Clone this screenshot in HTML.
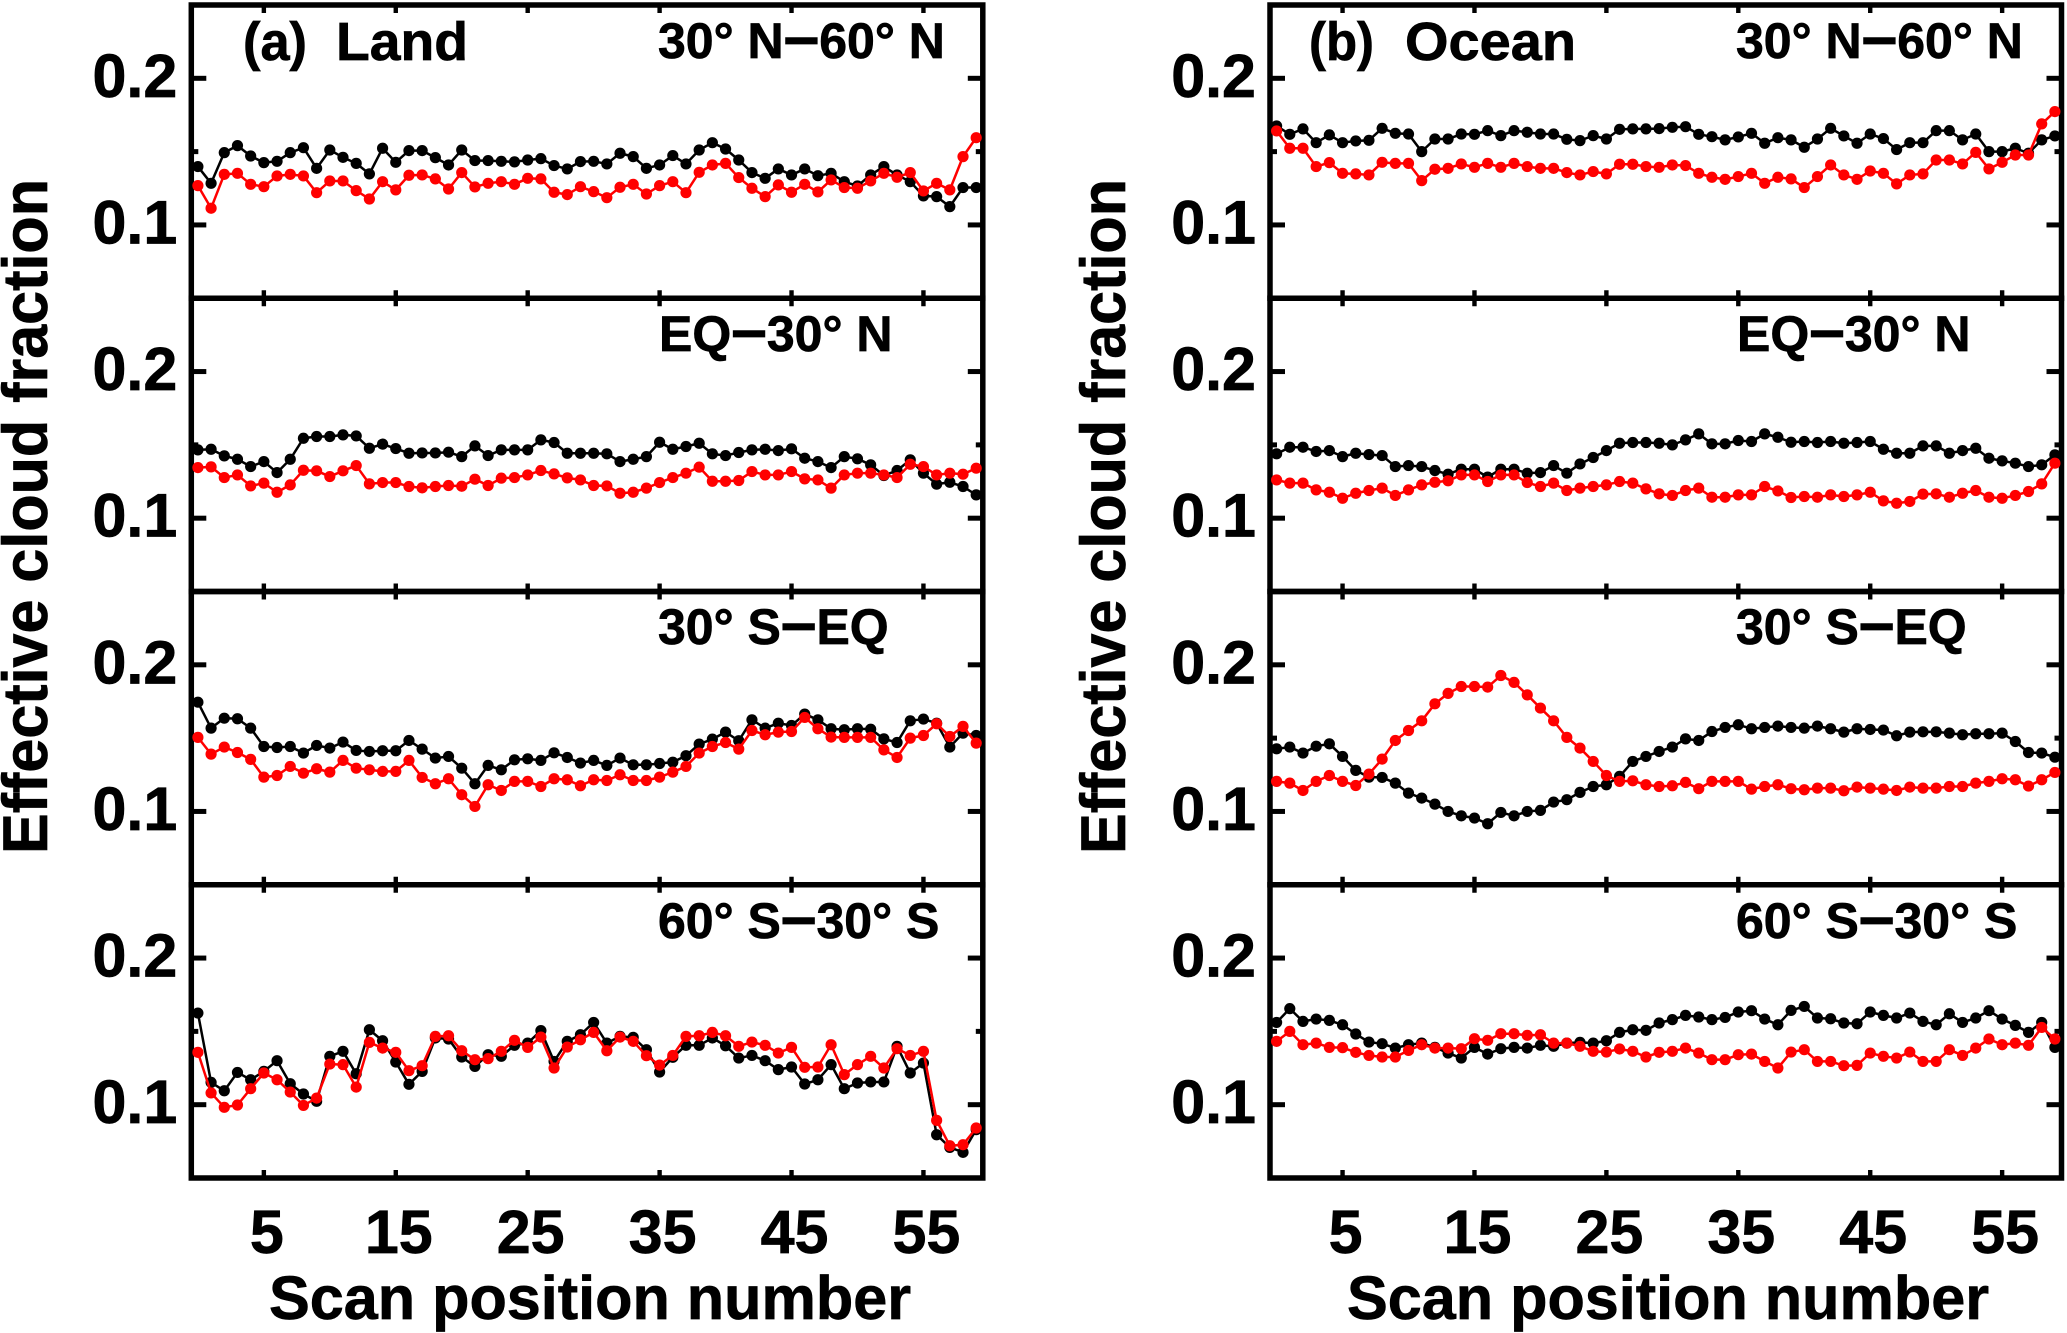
<!DOCTYPE html>
<html lang="en">
<head>
<meta charset="utf-8">
<title>Effective cloud fraction by scan position</title>
<style>
html,body{margin:0;padding:0;background:#fff;}
body{width:2067px;height:1333px;overflow:hidden;}
svg{display:block;}
text{font-family:"Liberation Sans",Arial,sans-serif;font-weight:bold;fill:#000;stroke:#000;stroke-width:0.7px;}
tspan.dash{font-size:64px;}
</style>
</head>
<body>
<svg id="chart" xmlns="http://www.w3.org/2000/svg" width="2067" height="1333" viewBox="0 0 2067 1333">
  <rect x="0" y="0" width="2067" height="1333" fill="#fff"/>
  <g id="panels"></g>
  <text transform="translate(47,854) rotate(-90)" font-size="63" textLength="675" lengthAdjust="spacingAndGlyphs">Effective cloud fraction</text>
  <text transform="translate(1125,854) rotate(-90)" font-size="63" textLength="675" lengthAdjust="spacingAndGlyphs">Effective cloud fraction</text>
  <text x="269" y="1319" font-size="61" textLength="642" lengthAdjust="spacingAndGlyphs">Scan position number</text>
  <text x="1347" y="1319" font-size="61" textLength="642" lengthAdjust="spacingAndGlyphs">Scan position number</text>
  <text x="243" y="60" font-size="54" textLength="64" lengthAdjust="spacingAndGlyphs">(a)</text>
  <text x="336" y="60" font-size="54" textLength="132" lengthAdjust="spacingAndGlyphs">Land</text>
  <text x="1309" y="60" font-size="54" textLength="65" lengthAdjust="spacingAndGlyphs">(b)</text>
  <text x="1405" y="60" font-size="54" textLength="171" lengthAdjust="spacingAndGlyphs">Ocean</text>
  <text x="658" y="58" font-size="50">30° N<tspan class="dash">–</tspan>60° N</text>
  <text x="659" y="351" font-size="50">EQ<tspan class="dash">–</tspan>30° N</text>
  <text x="658" y="644" font-size="50">30° S<tspan class="dash">–</tspan>EQ</text>
  <text x="658" y="938" font-size="50">60° S<tspan class="dash">–</tspan>30° S</text>
  <text x="1736" y="58" font-size="50">30° N<tspan class="dash">–</tspan>60° N</text>
  <text x="1737" y="351" font-size="50">EQ<tspan class="dash">–</tspan>30° N</text>
  <text x="1736" y="644" font-size="50">30° S<tspan class="dash">–</tspan>EQ</text>
  <text x="1736" y="938" font-size="50">60° S<tspan class="dash">–</tspan>30° S</text>
</svg>
<script>
const xTickValues = [5, 15, 25, 35, 45, 55];
const yTickValues = [0.1, 0.2];
const yMinorTickValues = [0.15];
const yTickLabels = ['0.1', '0.2'];

const land3060Black = [0.1398,0.1284,0.1493,0.1541,0.1470,0.1425,0.1434,0.1493,0.1527,0.1386,0.1511,0.1461,0.1420,0.1348,0.1523,0.1427,0.1507,0.1507,0.1459,0.1409,0.1511,0.1439,0.1439,0.1434,0.1430,0.1443,0.1452,0.1405,0.1382,0.1432,0.1434,0.1416,0.1489,0.1466,0.1386,0.1409,0.1473,0.1416,0.1511,0.1561,0.1518,0.1443,0.1357,0.1318,0.1382,0.1341,0.1382,0.1336,0.1352,0.1295,0.1266,0.1341,0.1398,0.1341,0.1295,0.1198,0.1193,0.1125,0.1255,0.1255];
const land3060Red = [0.1268,0.1114,0.1345,0.1352,0.1277,0.1261,0.1334,0.1345,0.1334,0.1220,0.1300,0.1300,0.1234,0.1177,0.1295,0.1239,0.1339,0.1341,0.1314,0.1245,0.1357,0.1259,0.1284,0.1295,0.1277,0.1318,0.1314,0.1223,0.1207,0.1261,0.1227,0.1186,0.1257,0.1277,0.1211,0.1268,0.1295,0.1220,0.1359,0.1409,0.1420,0.1323,0.1250,0.1193,0.1273,0.1223,0.1277,0.1225,0.1307,0.1255,0.1250,0.1300,0.1352,0.1325,0.1357,0.1232,0.1284,0.1239,0.1466,0.1595];

const landEq30Black = [0.1466,0.1470,0.1425,0.1402,0.1352,0.1386,0.1311,0.1402,0.1545,0.1557,0.1557,0.1568,0.1561,0.1477,0.1505,0.1475,0.1443,0.1445,0.1445,0.1450,0.1420,0.1493,0.1427,0.1466,0.1466,0.1466,0.1534,0.1516,0.1443,0.1443,0.1443,0.1439,0.1386,0.1402,0.1420,0.1518,0.1470,0.1489,0.1511,0.1439,0.1427,0.1448,0.1466,0.1470,0.1461,0.1473,0.1409,0.1386,0.1345,0.1420,0.1405,0.1364,0.1291,0.1325,0.1398,0.1307,0.1232,0.1245,0.1216,0.1159];
const landEq30Red = [0.1345,0.1350,0.1277,0.1295,0.1220,0.1239,0.1177,0.1227,0.1327,0.1323,0.1284,0.1323,0.1359,0.1234,0.1243,0.1243,0.1216,0.1207,0.1216,0.1223,0.1218,0.1266,0.1223,0.1273,0.1277,0.1295,0.1325,0.1302,0.1275,0.1261,0.1223,0.1220,0.1170,0.1177,0.1205,0.1243,0.1277,0.1307,0.1348,0.1252,0.1252,0.1257,0.1318,0.1295,0.1295,0.1318,0.1268,0.1261,0.1205,0.1295,0.1307,0.1307,0.1295,0.1277,0.1368,0.1352,0.1295,0.1307,0.1300,0.1341];

const landS30EqBlack = [0.1745,0.1568,0.1636,0.1632,0.1568,0.1443,0.1436,0.1443,0.1398,0.1450,0.1432,0.1473,0.1416,0.1409,0.1414,0.1414,0.1484,0.1425,0.1364,0.1375,0.1295,0.1189,0.1314,0.1284,0.1352,0.1359,0.1348,0.1400,0.1368,0.1330,0.1348,0.1314,0.1364,0.1318,0.1318,0.1327,0.1336,0.1380,0.1459,0.1493,0.1541,0.1482,0.1625,0.1568,0.1602,0.1586,0.1664,0.1625,0.1564,0.1557,0.1564,0.1561,0.1495,0.1470,0.1618,0.1630,0.1602,0.1439,0.1534,0.1518];
const landS30EqRed = [0.1505,0.1391,0.1439,0.1402,0.1355,0.1234,0.1245,0.1307,0.1261,0.1291,0.1268,0.1348,0.1295,0.1284,0.1273,0.1273,0.1348,0.1232,0.1189,0.1223,0.1114,0.1034,0.1182,0.1143,0.1205,0.1205,0.1170,0.1223,0.1216,0.1175,0.1216,0.1211,0.1250,0.1211,0.1211,0.1234,0.1268,0.1307,0.1398,0.1443,0.1470,0.1425,0.1552,0.1523,0.1541,0.1545,0.1641,0.1564,0.1507,0.1505,0.1505,0.1505,0.1420,0.1368,0.1500,0.1518,0.1598,0.1511,0.1580,0.1466];

const landS60S30Black = [0.1625,0.1152,0.1095,0.1220,0.1170,0.1227,0.1300,0.1143,0.1073,0.1023,0.1330,0.1364,0.1211,0.1511,0.1436,0.1291,0.1139,0.1227,0.1455,0.1448,0.1325,0.1261,0.1341,0.1330,0.1405,0.1420,0.1505,0.1295,0.1432,0.1477,0.1561,0.1420,0.1466,0.1459,0.1375,0.1223,0.1323,0.1405,0.1405,0.1455,0.1402,0.1318,0.1336,0.1300,0.1239,0.1257,0.1141,0.1170,0.1273,0.1109,0.1148,0.1155,0.1155,0.1398,0.1216,0.1284,0.0795,0.0709,0.0675,0.0830];
const landS60S30Red = [0.1357,0.1080,0.0982,0.0998,0.1109,0.1216,0.1170,0.1086,0.0995,0.1045,0.1277,0.1273,0.1120,0.1425,0.1386,0.1357,0.1232,0.1266,0.1466,0.1470,0.1368,0.1307,0.1314,0.1364,0.1439,0.1391,0.1461,0.1250,0.1393,0.1443,0.1493,0.1368,0.1461,0.1432,0.1334,0.1270,0.1336,0.1466,0.1470,0.1493,0.1470,0.1398,0.1427,0.1405,0.1352,0.1391,0.1255,0.1257,0.1409,0.1205,0.1273,0.1330,0.1250,0.1382,0.1336,0.1364,0.0893,0.0720,0.0727,0.0841];

const ocean3060Black = [0.1675,0.1618,0.1655,0.1561,0.1614,0.1561,0.1573,0.1577,0.1659,0.1625,0.1620,0.1500,0.1586,0.1586,0.1620,0.1618,0.1643,0.1609,0.1643,0.1632,0.1620,0.1620,0.1584,0.1575,0.1609,0.1586,0.1652,0.1655,0.1655,0.1657,0.1666,0.1670,0.1618,0.1602,0.1580,0.1600,0.1625,0.1557,0.1595,0.1580,0.1530,0.1586,0.1659,0.1607,0.1557,0.1620,0.1589,0.1514,0.1561,0.1561,0.1643,0.1643,0.1580,0.1620,0.1500,0.1500,0.1523,0.1489,0.1580,0.1607];
const ocean3060Red = [0.1641,0.1523,0.1523,0.1398,0.1425,0.1352,0.1348,0.1341,0.1427,0.1420,0.1420,0.1302,0.1380,0.1386,0.1416,0.1393,0.1420,0.1393,0.1420,0.1398,0.1386,0.1386,0.1357,0.1341,0.1364,0.1348,0.1414,0.1414,0.1398,0.1393,0.1409,0.1405,0.1352,0.1325,0.1311,0.1330,0.1352,0.1284,0.1325,0.1314,0.1255,0.1330,0.1409,0.1341,0.1311,0.1368,0.1352,0.1280,0.1341,0.1348,0.1443,0.1443,0.1416,0.1495,0.1382,0.1427,0.1477,0.1477,0.1689,0.1773];

const oceanEq30Black = [0.1439,0.1484,0.1484,0.1455,0.1461,0.1420,0.1443,0.1434,0.1427,0.1352,0.1359,0.1352,0.1325,0.1300,0.1334,0.1334,0.1280,0.1334,0.1334,0.1307,0.1311,0.1359,0.1307,0.1370,0.1414,0.1461,0.1511,0.1516,0.1516,0.1511,0.1500,0.1534,0.1575,0.1507,0.1507,0.1530,0.1523,0.1575,0.1552,0.1518,0.1523,0.1516,0.1523,0.1511,0.1516,0.1523,0.1470,0.1443,0.1443,0.1493,0.1493,0.1443,0.1461,0.1477,0.1409,0.1391,0.1375,0.1352,0.1364,0.1432];
const oceanEq30Red = [0.1261,0.1239,0.1239,0.1193,0.1177,0.1136,0.1170,0.1189,0.1205,0.1155,0.1193,0.1227,0.1245,0.1255,0.1295,0.1295,0.1250,0.1295,0.1295,0.1243,0.1216,0.1239,0.1189,0.1205,0.1216,0.1227,0.1250,0.1239,0.1200,0.1166,0.1155,0.1189,0.1205,0.1143,0.1143,0.1159,0.1159,0.1216,0.1186,0.1141,0.1148,0.1143,0.1159,0.1148,0.1159,0.1177,0.1118,0.1102,0.1114,0.1164,0.1166,0.1143,0.1170,0.1189,0.1143,0.1136,0.1155,0.1182,0.1234,0.1375];

const oceanS30EqBlack = [0.1427,0.1439,0.1398,0.1445,0.1461,0.1375,0.1280,0.1234,0.1232,0.1193,0.1125,0.1091,0.1050,0.1000,0.0970,0.0955,0.0916,0.0993,0.0970,0.1000,0.1007,0.1064,0.1080,0.1130,0.1170,0.1182,0.1239,0.1341,0.1375,0.1409,0.1439,0.1495,0.1484,0.1545,0.1573,0.1591,0.1564,0.1573,0.1582,0.1573,0.1568,0.1582,0.1564,0.1541,0.1564,0.1559,0.1555,0.1516,0.1541,0.1543,0.1543,0.1534,0.1523,0.1530,0.1530,0.1534,0.1477,0.1402,0.1398,0.1370];
const oceanS30EqRed = [0.1205,0.1193,0.1143,0.1205,0.1245,0.1205,0.1177,0.1255,0.1357,0.1484,0.1552,0.1618,0.1734,0.1805,0.1852,0.1852,0.1848,0.1927,0.1880,0.1795,0.1705,0.1618,0.1505,0.1432,0.1341,0.1245,0.1205,0.1209,0.1182,0.1170,0.1175,0.1198,0.1155,0.1205,0.1205,0.1205,0.1152,0.1170,0.1182,0.1155,0.1148,0.1159,0.1159,0.1141,0.1166,0.1159,0.1152,0.1143,0.1166,0.1159,0.1159,0.1170,0.1170,0.1193,0.1205,0.1223,0.1216,0.1173,0.1216,0.1266];

const oceanS60S30Black = [0.1561,0.1655,0.1568,0.1584,0.1575,0.1545,0.1482,0.1427,0.1416,0.1386,0.1409,0.1420,0.1391,0.1352,0.1318,0.1391,0.1345,0.1382,0.1391,0.1386,0.1405,0.1398,0.1420,0.1425,0.1420,0.1436,0.1493,0.1511,0.1507,0.1557,0.1580,0.1609,0.1598,0.1580,0.1595,0.1632,0.1641,0.1584,0.1545,0.1643,0.1670,0.1591,0.1586,0.1557,0.1552,0.1632,0.1609,0.1591,0.1625,0.1568,0.1545,0.1620,0.1561,0.1591,0.1641,0.1584,0.1541,0.1493,0.1561,0.1391];
const oceanS60S30Red = [0.1432,0.1500,0.1409,0.1420,0.1391,0.1389,0.1357,0.1336,0.1325,0.1325,0.1370,0.1409,0.1386,0.1386,0.1382,0.1450,0.1439,0.1484,0.1484,0.1473,0.1477,0.1420,0.1420,0.1398,0.1364,0.1359,0.1380,0.1364,0.1325,0.1357,0.1364,0.1386,0.1352,0.1307,0.1307,0.1341,0.1345,0.1295,0.1250,0.1359,0.1375,0.1295,0.1295,0.1266,0.1268,0.1352,0.1330,0.1318,0.1359,0.1295,0.1295,0.1375,0.1336,0.1386,0.1448,0.1409,0.1420,0.1405,0.1527,0.1448];

const panelDefs = [
  { slug: 'land-30n-60n',   col: 0, row: 0, black: land3060Black,    red: land3060Red },
  { slug: 'land-eq-30n',    col: 0, row: 1, black: landEq30Black,    red: landEq30Red },
  { slug: 'land-30s-eq',    col: 0, row: 2, black: landS30EqBlack,   red: landS30EqRed },
  { slug: 'land-60s-30s',   col: 0, row: 3, black: landS60S30Black,  red: landS60S30Red },
  { slug: 'ocean-30n-60n',  col: 1, row: 0, black: ocean3060Black,   red: ocean3060Red },
  { slug: 'ocean-eq-30n',   col: 1, row: 1, black: oceanEq30Black,   red: oceanEq30Red },
  { slug: 'ocean-30s-eq',   col: 1, row: 2, black: oceanS30EqBlack,  red: oceanS30EqRed },
  { slug: 'ocean-60s-30s',  col: 1, row: 3, black: oceanS60S30Black, red: oceanS60S30Red }
];

const SVG_NS = 'http://www.w3.org/2000/svg';
const root = document.getElementById('panels');
const plotWidth = 791.5;
const plotHeight = 293.25;
const X_MIN = -0.5, X_MAX = 59.5, Y_MIN = 0.05, Y_MAX = 0.25;

function plotLeft(col) { return col === 0 ? 191.3 : 1270; }
function plotTop(row) { return 5 + row * plotHeight; }
function xScale(col, v) { return plotLeft(col) + (v - X_MIN) / (X_MAX - X_MIN) * plotWidth; }
function yScale(row, v) { return plotTop(row) + (Y_MAX - v) / (Y_MAX - Y_MIN) * plotHeight; }

function make(tag, parent, attrs) {
  const el = document.createElementNS(SVG_NS, tag);
  for (const k in attrs) el.setAttribute(k, attrs[k]);
  parent.appendChild(el);
  return el;
}

function drawTickBar(parent, name, x, y, w, h) {
  const el = make('rect', parent, { x: x, y: y, width: w, height: h, fill: '#000' });
  
  
}

function drawSeries(parent, def, values, color, label) {
  const g = make('g', parent, {});
  
  
  const pts = values.map(function (v, i) {
    return xScale(def.col, i).toFixed(2) + ',' + yScale(def.row, v).toFixed(2);
  }).join(' ');
  const line = make('polyline', g, { points: pts, fill: 'none', stroke: color, 'stroke-width': 2.5, 'stroke-linejoin': 'round' });
  
  
  values.forEach(function (v, i) {
    const dot = make('circle', g, { cx: xScale(def.col, i).toFixed(2), cy: yScale(def.row, v).toFixed(2), r: 5.6, fill: color });
    
    
  });
}

panelDefs.forEach(function (def) {
  const g = make('g', root, {});
  
  

  const L = plotLeft(def.col), T = plotTop(def.row), R = L + plotWidth, B = T + plotHeight;

  const frame = make('rect', g, { x: L, y: T, width: plotWidth, height: plotHeight, fill: 'none', stroke: '#000', 'stroke-width': 5.5 });
  
  

  yTickValues.forEach(function (v, i) {
    const y = yScale(def.row, v);
    drawTickBar(g, 'y-tick-left', L, y - 2.5, 15, 5);
    drawTickBar(g, 'y-tick-right', R - 15, y - 2.5, 15, 5);
    const t = make('text', g, { x: L - 14, y: y + 18.5, 'font-size': 61, 'text-anchor': 'end' });
    t.textContent = yTickLabels[i];
    
    
  });

  yMinorTickValues.forEach(function (v) {
    const y = yScale(def.row, v);
    drawTickBar(g, 'y-minor-tick-left', L, y - 2.5, 7, 5);
    drawTickBar(g, 'y-minor-tick-right', R - 7, y - 2.5, 7, 5);
  });

  xTickValues.forEach(function (v) {
    const x = xScale(def.col, v);
    drawTickBar(g, 'x-tick-top', x - 2.2, T, 4.4, 8);
    drawTickBar(g, 'x-tick-bottom', x - 2.2, B - 8, 4.4, 8);
    if (def.row === 3) {
      const t = make('text', g, { x: x + 3, y: 1253, 'font-size': 61, 'text-anchor': 'middle' });
      t.textContent = String(v);
      
      
    }
  });

  drawSeries(g, def, def.black, '#000', 'black');
  drawSeries(g, def, def.red, '#f00', 'red');
});
</script>
</body>
</html>
